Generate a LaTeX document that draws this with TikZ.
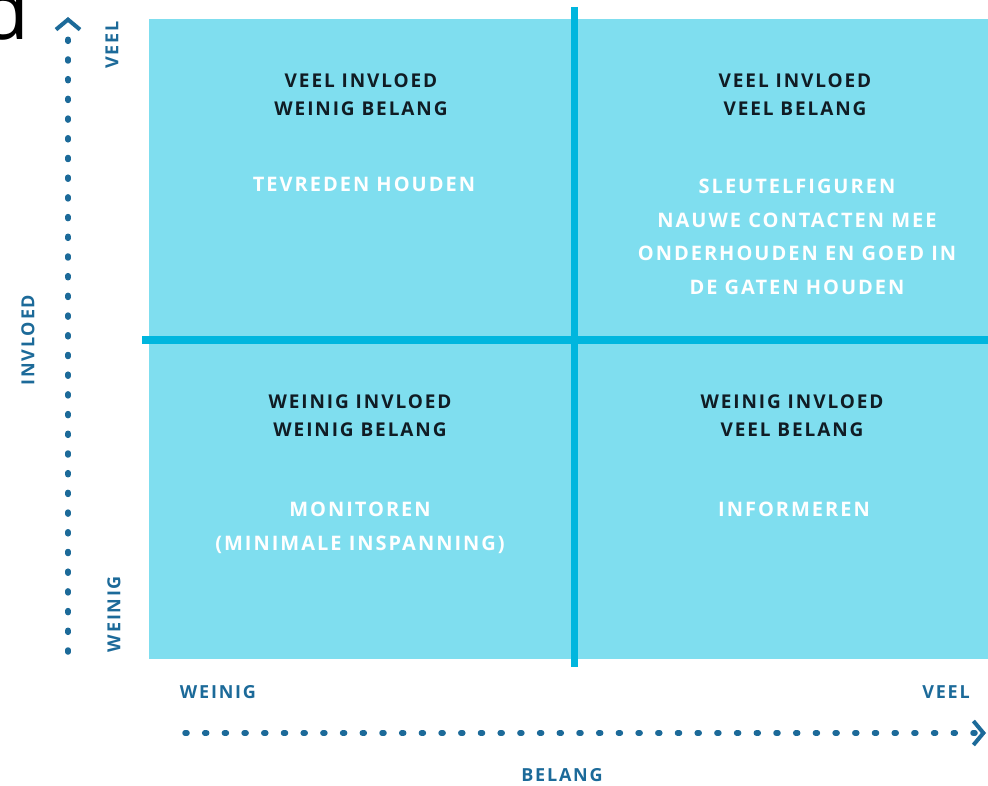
\documentclass[tikz,border=0pt]{standalone}
\usepackage{fontspec}
\setmainfont{Open Sans}
\newfontfamily\quadfont[LetterSpace=10]{Open Sans}
\newfontfamily\axisfont[LetterSpace=10]{Open Sans}
\usetikzlibrary{arrows.meta}
\definecolor{quadfill}{RGB}{127,222,239}
\definecolor{divider}{RGB}{0,182,222}
\definecolor{axisblue}{RGB}{28,106,153}
\definecolor{darktext}{RGB}{16,28,36}

\tikzstyle{quadrant}=[fill=quadfill,draw=none]
\tikzstyle{divide}=[draw,line width=7pt,divider]
\tikzstyle{axis}=[draw,axisblue,line width=5.5pt,line cap=round,dash pattern=on 2pt off 17.7pt,-{Straight Barb[length=10pt,width=24pt,line width=4pt]}]
\tikzstyle{title}=[inner sep=0pt,anchor=north,align=center,text=darktext,font=\quadfont\bfseries\fontsize{19}{28}\selectfont]
\tikzstyle{advice}=[inner sep=0pt,anchor=north,align=center,text=white,font=\quadfont\bfseries\fontsize{20}{33.5}\selectfont]
\tikzstyle{axislabel}=[inner sep=0pt,text=axisblue,font=\axisfont\bfseries\fontsize{18}{20}\selectfont]

\begin{document}
\begin{tikzpicture}[x=1pt,y=-1pt]
			\useasboundingbox (0,0) rectangle (988,786);
			% the panel letter, cut by the page edge
			\node[anchor=base east,inner sep=0pt,font=\fontsize{80}{80}\selectfont] (panel) at (30,40) {d};
			% the four quadrants
			\path[quadrant] (149,19) rectangle (988,659);
			\coordinate (top) at (574,7);
			\coordinate (bottom) at (574,667);
			\coordinate (left) at (142,340);
			\coordinate (right) at (988,340);
			\path[divide] (top) -- (bottom);
			\path[divide] (left) -- (right);
			% texts in the quadrants
			\node[title] (tl) at (361,74) {VEEL INVLOED\\WEINIG BELANG};
			\node[advice] (tla) at (364,177) {TEVREDEN HOUDEN};
			\node[title] (tr) at (795,74) {VEEL INVLOED\\VEEL BELANG};
			\node[advice] (tra) at (797,179) {SLEUTELFIGUREN\\NAUWE CONTACTEN MEE\\ONDERHOUDEN EN GOED IN\\DE GATEN HOUDEN};
			\node[title] (bl) at (360,395) {WEINIG INVLOED\\WEINIG BELANG};
			\node[advice] (bla) at (360,502) {MONITOREN\\(MINIMALE INSPANNING)};
			\node[title] (br) at (792,395) {WEINIG INVLOED\\VEEL BELANG};
			\node[advice] (bra) at (794,502) {INFORMEREN};
			% the axes
			\coordinate (y0) at (68,652);
			\coordinate (y1) at (68,17);
			\coordinate (x0) at (185,733);
			\coordinate (x1) at (986,733);
			\path[axis] (y0) -- (y1);
			\path[axis] (x0) -- (x1);
			\node[axislabel,rotate=90] (yhigh) at (112,45) {VEEL};
			\node[axislabel,rotate=90] (ylow) at (114,614) {WEINIG};
			\node[axislabel,rotate=90] (ytitle) at (28,340) {INVLOED};
			\node[axislabel] (xlow) at (218,692) {WEINIG};
			\node[axislabel] (xhigh) at (946,692) {VEEL};
			\node[axislabel] (xtitle) at (562,775) {BELANG};
		\end{tikzpicture}
\end{document}
